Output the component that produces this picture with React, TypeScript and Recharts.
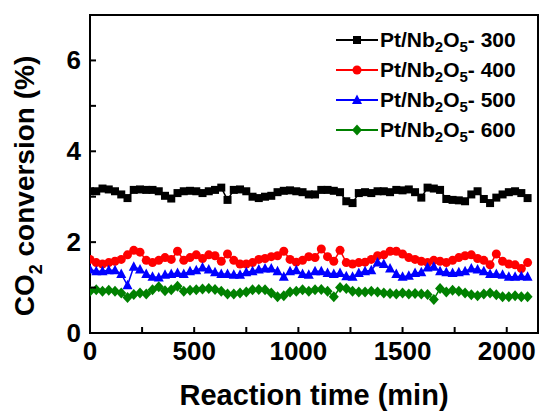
import { LineChart, Line, XAxis, YAxis, ReferenceArea, Label } from 'recharts';

const times = [
  0, 30, 60, 90, 120, 150, 180, 210, 240, 270, 300, 330, 360, 390, 420, 450, 480, 510,
  540, 570, 600, 630, 660, 690, 720, 750, 780, 810, 840, 870, 900, 930, 960, 990, 1020, 1050,
  1080, 1110, 1140, 1170, 1200, 1230, 1260, 1290, 1320, 1350, 1380, 1410, 1440, 1470, 1500, 1530, 1560, 1590,
  1620, 1650, 1680, 1710, 1740, 1770, 1800, 1830, 1860, 1890, 1920, 1950, 1980, 2010, 2040, 2070, 2100,
];

const pt300 = [
  3.12, 3.12, 3.18, 3.16, 3.12, 3.05, 2.97, 3.15, 3.16, 3.15, 3.15, 3.12, 3.02, 2.96, 3.08, 3.12, 3.13, 3.12,
  3.08, 3.12, 3.15, 3.2, 2.93, 3.15, 3.16, 3.12, 3.0, 2.97, 3.0, 3.02, 3.1, 3.13, 3.14, 3.12, 3.1, 3.05,
  3.05, 3.15, 3.15, 3.13, 3.1, 2.9, 2.86, 3.08, 3.1, 3.08, 3.12, 3.12, 3.1, 3.15, 3.14, 3.16, 3.1, 2.98,
  3.2, 3.18, 3.15, 2.95, 2.93, 2.92, 2.9, 3.05, 3.12, 2.95, 2.86, 2.98, 3.05, 3.1, 3.12, 3.08, 2.97,
];

const pt400 = [
  1.62, 1.55, 1.52, 1.55, 1.58, 1.62, 1.72, 1.82, 1.78, 1.6, 1.55, 1.6, 1.66, 1.62, 1.8, 1.6, 1.66, 1.72,
  1.64, 1.72, 1.7, 1.58, 1.74, 1.6, 1.52, 1.52, 1.55, 1.62, 1.64, 1.68, 1.7, 1.8, 1.62, 1.56, 1.6, 1.68,
  1.66, 1.85, 1.68, 1.58, 1.82, 1.55, 1.52, 1.55, 1.56, 1.62, 1.7, 1.72, 1.8, 1.8, 1.74, 1.66, 1.62, 1.58,
  1.55, 1.6, 1.58, 1.55, 1.6, 1.66, 1.7, 1.72, 1.64, 1.6, 1.5, 1.74, 1.58, 1.52, 1.5, 1.42, 1.55,
];

const pt500 = [
  1.4, 1.36, 1.36, 1.38, 1.38, 1.3, 1.05, 1.46, 1.4, 1.3, 1.24, 1.22, 1.28, 1.3, 1.32, 1.3, 1.36, 1.38,
  1.44, 1.4, 1.34, 1.3, 1.3, 1.28, 1.28, 1.34, 1.36, 1.4, 1.42, 1.42, 1.36, 1.24, 1.36, 1.38, 1.3, 1.28,
  1.36, 1.36, 1.32, 1.3, 1.32, 1.25, 1.24, 1.32, 1.36, 1.38, 1.55, 1.52, 1.42, 1.3, 1.24, 1.26, 1.32, 1.34,
  1.44, 1.46, 1.36, 1.34, 1.32, 1.34, 1.36, 1.42, 1.4, 1.36, 1.3, 1.3, 1.28, 1.24, 1.24, 1.25, 1.24,
];

const pt600 = [
  0.92, 0.95, 0.92, 0.94, 0.92, 0.88, 0.78, 0.85, 0.88, 0.86, 0.95, 1.02, 0.93, 0.95, 1.03, 0.92, 0.94, 0.95,
  0.97, 0.98, 0.96, 0.92, 0.86, 0.86, 0.88, 0.9, 0.95, 0.96, 0.95, 0.88, 0.8, 0.82, 0.9, 0.92, 0.95, 0.92,
  0.95, 0.96, 0.92, 0.8, 1.0, 0.98, 0.92, 0.9, 0.9, 0.92, 0.9, 0.88, 0.87, 0.86, 0.88, 0.86, 0.87, 0.86,
  0.85, 0.74, 0.98, 0.9, 0.94, 0.92, 0.88, 0.84, 0.82, 0.86, 0.88, 0.84, 0.8, 0.8, 0.82, 0.8, 0.8,
];

const xTicks = [0, 250, 500, 750, 1000, 1250, 1500, 1750, 2000];
const yTicks = [0, 1, 2, 3, 4, 5, 6, 7];

const series = [
  { key: 'pt300', temp: '300', color: '#000000', shape: 'square' },
  { key: 'pt400', temp: '400', color: '#ff0000', shape: 'circle' },
  { key: 'pt500', temp: '500', color: '#0000ff', shape: 'triangle' },
  { key: 'pt600', temp: '600', color: '#008000', shape: 'diamond' },
];

const data = times.map((t, i) => ({
  t,
  pt300: pt300[i],
  pt400: pt400[i],
  pt500: pt500[i],
  pt600: pt600[i],
}));

const FONT = '"Liberation Sans", Arial, sans-serif';

function Marker({ cx, cy, shape, color }: any) {
  if (cx == null || cy == null) return null;
  if (shape === 'square') return <rect x={cx - 4} y={cy - 4} width={8} height={8} fill={color} />;
  if (shape === 'circle') return <circle cx={cx} cy={cy} r={4.5} fill={color} />;
  if (shape === 'triangle')
    return <polygon points={`${cx},${cy - 5.5} ${cx - 5},${cy + 4} ${cx + 5},${cy + 4}`} fill={color} />;
  return <polygon points={`${cx},${cy - 5.5} ${cx + 5},${cy} ${cx},${cy + 5.5} ${cx - 5},${cy}`} fill={color} />;
}

const XTick = ({ x, y, payload }: any) => (
  <g>
    <line x1={x} y1={y} x2={x} y2={y - 6} stroke="#000" strokeWidth={2} />
    {payload.value % 500 === 0 && (
      <text x={x} y={y + 27} textAnchor="middle" fontSize={26} fontWeight="bold" fontFamily={FONT} fill="#000">
        {payload.value}
      </text>
    )}
  </g>
);

const YTick = ({ x, y, payload }: any) => (
  <g>
    <line x1={x} y1={y} x2={x + 6} y2={y} stroke="#000" strokeWidth={2} />
    {payload.value % 2 === 0 && (
      <text x={x - 9} y={y + 9} textAnchor="end" fontSize={26} fontWeight="bold" fontFamily={FONT} fill="#000">
        {payload.value}
      </text>
    )}
  </g>
);

const YLabel = ({ viewBox }: any) => {
  const cy = viewBox.y + viewBox.height / 2 + 12;
  const cx = 34;
  return (
    <text
      x={cx}
      y={cy}
      transform={`rotate(-90 ${cx} ${cy})`}
      textAnchor="middle"
      fontSize={28}
      fontWeight="bold"
      fontFamily={FONT}
      fill="#000"
    >
      CO
      <tspan fontSize={18} dy={8}>2</tspan>
      <tspan dy={-8}> conversion (%)</tspan>
    </text>
  );
};

// legend drawn over the plot, outside recharts' layout
const LegendBox = () => (
  <div
    style={{
      position: 'absolute',
      top: 25,
      left: 336,
      fontFamily: FONT,
      fontWeight: 'bold',
      fontSize: 21,
      color: '#000',
      lineHeight: '20px',
    }}
  >
    {series.map((s) => (
      <div key={s.key} style={{ display: 'flex', alignItems: 'center', height: 30 }}>
        <svg width={42} height={14} style={{ marginRight: 2 }}>
          <line x1={0} y1={7} x2={42} y2={7} stroke={s.color} strokeWidth={2} />
          <Marker cx={21} cy={7} shape={s.shape} color={s.color} />
        </svg>
        <span>
          Pt/Nb<sub style={{ fontSize: 15, lineHeight: 0 }}>2</sub>O<sub style={{ fontSize: 15, lineHeight: 0 }}>5</sub>- {s.temp}
        </span>
      </div>
    ))}
  </div>
);

export default function App() {
  return (
    <div style={{ position: 'absolute', left: 0, top: 0, width: 541, height: 413, background: '#fff' }}>
      <LineChart width={541} height={413} data={data} margin={{ top: 15, right: 3, left: 0, bottom: 0 }}>
        <XAxis
          type="number"
          dataKey="t"
          domain={[0, 2150]}
          ticks={xTicks}
          allowDataOverflow
          height={80}
          tickSize={0}
          tickMargin={0}
          tickLine={false}
          axisLine={{ stroke: '#000', strokeWidth: 2 }}
          tick={<XTick />}
        >
          <Label
            value="Reaction time (min)"
            position="insideBottom"
            offset={8}
            style={{ fontSize: 29, fontWeight: 'bold', fontFamily: FONT, fill: '#000' }}
          />
        </XAxis>
        <YAxis
          type="number"
          domain={[0, 7]}
          ticks={yTicks}
          width={90}
          tickSize={0}
          tickMargin={0}
          tickLine={false}
          axisLine={{ stroke: '#000', strokeWidth: 2 }}
          tick={<YTick />}
        >
          <Label content={<YLabel />} />
        </YAxis>
        <ReferenceArea x1={0} x2={2150} y1={0} y2={7} fill="none" stroke="#000" strokeWidth={2} />
        {series.map((s) => (
          <Line
            key={s.key}
            type="linear"
            dataKey={s.key}
            stroke={s.color}
            strokeWidth={1.5}
            dot={(p: any) => <Marker key={`${s.key}-${p.index}`} cx={p.cx} cy={p.cy} shape={s.shape} color={s.color} />}
            activeDot={false}
            isAnimationActive={false}
          />
        ))}
      </LineChart>
      <LegendBox />
    </div>
  );
}
